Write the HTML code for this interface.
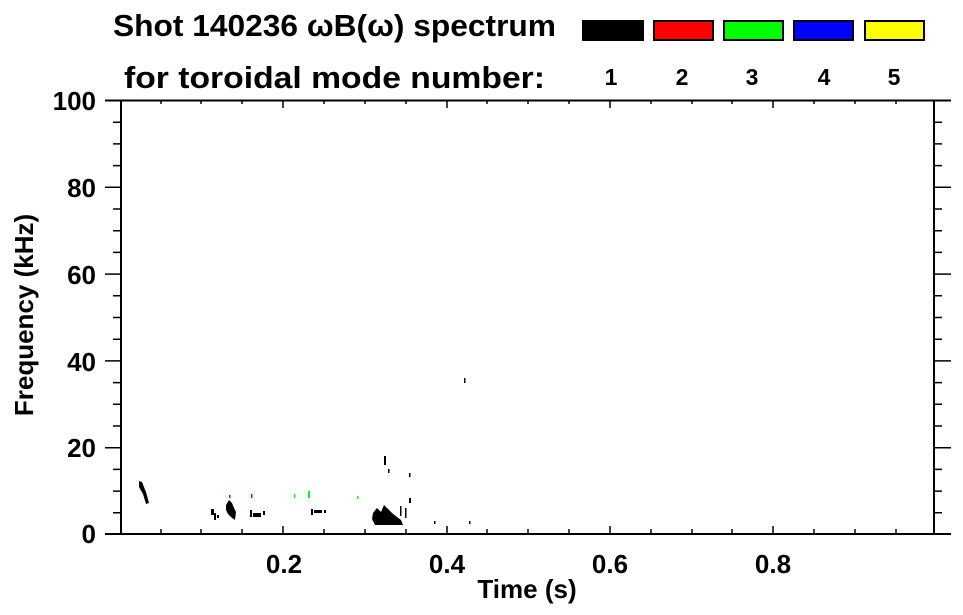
<!DOCTYPE html>
<html><head><meta charset="utf-8"><style>
html,body{margin:0;padding:0;background:#fff;}
svg{display:block;font-family:"Liberation Sans",sans-serif;font-weight:bold;}
</style></head><body>
<svg width="963" height="615" viewBox="0 0 963 615" xmlns="http://www.w3.org/2000/svg">
<text x="113" y="36" font-size="31" textLength="443" lengthAdjust="spacingAndGlyphs">Shot 140236 ωB(ω) spectrum</text>
<text x="124" y="88" font-size="31" textLength="421" lengthAdjust="spacingAndGlyphs">for toroidal mode number:</text>
<g stroke="#000" stroke-width="2">
<rect x="583" y="21" width="60" height="19" fill="#000"/>
<rect x="654" y="21" width="59" height="19" fill="#f00"/>
<rect x="724" y="21" width="59" height="19" fill="#0f0"/>
<rect x="794" y="21" width="59" height="19" fill="#00f"/>
<rect x="865" y="21" width="59" height="19" fill="#ff0"/>
</g>
<g font-size="23" text-anchor="middle">
<text x="611" y="85">1</text><text x="682" y="85">2</text><text x="752" y="85">3</text><text x="824" y="85">4</text><text x="894" y="85">5</text>
</g>
<g stroke="#000" stroke-width="2" fill="none">
<path d="M105 100.5H951M105 534H951M121 100V534M934 100V534"/>
</g>
<g stroke="#000" stroke-width="1.5">
<path d="M105 100.5H121M105 187.3H121M105 274.1H121M105 360.9H121M105 447.7H121M105 534H121"/>
<path d="M113 122.2H121M113 143.9H121M113 165.6H121M113 209H121M113 230.7H121M113 252.4H121M113 295.8H121M113 317.5H121M113 339.2H121M113 382.6H121M113 404.3H121M113 426H121M113 469.4H121M113 491.1H121M113 512.8H121"/>
<path d="M934 100.5H951M934 187.3H951M934 274.1H951M934 360.9H951M934 447.7H951"/>
<path d="M934 122.2H942M934 143.9H942M934 165.6H942M934 209H942M934 230.7H942M934 252.4H942M934 295.8H942M934 317.5H942M934 339.2H942M934 382.6H942M934 404.3H942M934 426H942M934 469.4H942M934 491.1H942M934 512.8H942"/>
<path d="M283 534V526M447 534V526M610 534V526M773 534V526"/>
<path d="M161 534V529M201 534V529M242 534V529M324 534V529M365 534V529M406 534V529M487 534V529M528 534V529M569 534V529M651 534V529M692 534V529M732 534V529M814 534V529M855 534V529M896 534V529"/>
<path d="M283 100V108M447 100V108M610 100V108M773 100V108"/>
<path d="M161 100V104M201 100V104M242 100V104M324 100V104M365 100V104M406 100V104M487 100V104M528 100V104M569 100V104M651 100V104M692 100V104M732 100V104M814 100V104M855 100V104M896 100V104"/>
</g>
<g font-size="26" text-anchor="end">
<text x="96" y="110">100</text><text x="96" y="197">80</text><text x="96" y="284">60</text><text x="96" y="371">40</text><text x="96" y="457">20</text><text x="96" y="543">0</text>
</g>
<g font-size="26" text-anchor="middle">
<text x="284" y="573">0.2</text><text x="447" y="573">0.4</text><text x="610" y="573">0.6</text><text x="773" y="573">0.8</text>
<text x="527" y="598">Time (s)</text>
</g>
<text transform="translate(33,315) rotate(-90)" font-size="26" text-anchor="middle">Frequency (kHz)</text>
<g fill="#000">
<path d="M139 481L142 482L146 492L149 503L146 504L143 494L139 487Z"/>
<path d="M211 509h3v6h-3zM214 513h2v7h-2zM217 515h2v3h-2z"/>
<path d="M226 505L229 500L232 503L234 508L236 512L235 520L231 517L228 514L226 510Z"/>
<path d="M250 510h2v7h-2zM253 513h8v4h-8zM263 511h2v4h-2z"/>
<path d="M311 509h2v6h-2zM314 510h8v3h-8zM324 510h2v3h-2z"/>
<path d="M373 513L377 508L381 512L384 505L388 509L392 513L397 517L401 520L403 525L375 525L372 519Z"/>
<path d="M384 456h2v9h-2zM388 469h1.5v4h-1.5zM409 473h1.5v4h-1.5zM409 498h2v5h-2zM405 508h1.5v10h-1.5zM400 506h1.5v10h-1.5z"/>
<path d="M434 521h1.5v3h-1.5zM469 521h1.5v3h-1.5zM464 378h1.5v5h-1.5z"/>
</g>
<g fill="#f00"><rect x="229" y="495" width="1.5" height="3"/><rect x="251" y="494" width="1.5" height="4"/></g>
<g fill="#0f0"><rect x="294" y="494" width="1.5" height="4"/><rect x="308" y="491" width="2" height="7"/><rect x="357" y="496" width="1.5" height="3"/></g>
</svg>
</body></html>
